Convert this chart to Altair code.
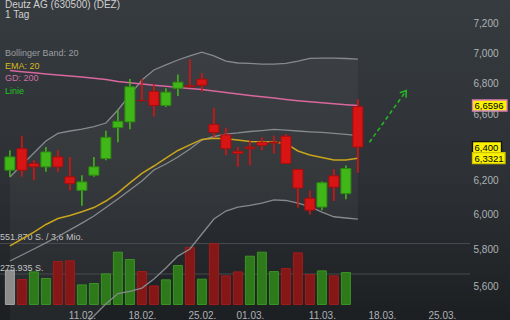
import altair as alt
import pandas as pd

# ---------------- data ----------------
day_index = list(range(30))
open_px = [6.26, 6.39, 6.30, 6.28, 6.34, 6.22, 6.14, 6.23, 6.33, 6.52,
           6.556, 6.692, 6.75, 6.66, 6.77, 6.787, 6.83, 6.54, 6.475, 6.374,
           6.40, 6.43, 6.43, 6.467, 6.264, 6.094, 6.043, 6.226, 6.121, 6.652]
high_px = [6.38, 6.47, 6.32, 6.40, 6.38, 6.34, 6.23, 6.34, 6.50, 6.63,
           6.83, 6.83, 6.80, 6.77, 6.86, 6.96, 6.87, 6.645, 6.52, 6.40,
           6.44, 6.46, 6.47, 6.48, 6.268, 6.14, 6.193, 6.266, 6.288, 6.70]
low_px = [6.22, 6.22, 6.20, 6.25, 6.25, 6.14, 6.05, 6.22, 6.32, 6.43,
          6.51, 6.69, 6.59, 6.65, 6.72, 6.775, 6.75, 6.46, 6.35, 6.28,
          6.29, 6.38, 6.36, 6.298, 6.04, 6.00, 6.025, 6.078, 6.088, 6.245]
close_px = [6.34, 6.26, 6.28, 6.37, 6.28, 6.18, 6.19, 6.28, 6.46, 6.56,
            6.78, 6.69, 6.66, 6.745, 6.81, 6.78, 6.79, 6.49, 6.39, 6.361,
            6.39, 6.41, 6.425, 6.30, 6.154, 6.025, 6.185, 6.159, 6.27, 6.40]

ema20 = [5.822, 5.861, 5.900, 5.943, 5.977, 5.994, 6.016, 6.040, 6.078, 6.125,
         6.184, 6.241, 6.285, 6.333, 6.379, 6.413, 6.447, 6.454, 6.451, 6.443,
         6.434, 6.433, 6.431, 6.422, 6.376, 6.352, 6.336, 6.321, 6.321, 6.3321]
gd200 = [6.886, 6.879, 6.871, 6.864, 6.857, 6.850, 6.843, 6.836, 6.828, 6.815,
         6.806, 6.798, 6.790, 6.783, 6.776, 6.769, 6.762, 6.752, 6.743, 6.733,
         6.724, 6.716, 6.707, 6.698, 6.690, 6.683, 6.677, 6.671, 6.665, 6.6596]
bb_upper = [6.219, 6.291, 6.364, 6.437, 6.484, 6.499, 6.511, 6.526, 6.549, 6.631,
            6.727, 6.824, 6.890, 6.923, 6.956, 6.983, 7.009, 6.983, 6.949, 6.936,
            6.933, 6.929, 6.929, 6.933, 6.949, 6.967, 6.969, 6.969, 6.966, 6.962]
bb_mid = [5.739, 5.772, 5.805, 5.839, 5.875, 5.912, 5.951, 5.991, 6.040, 6.090,
          6.142, 6.195, 6.261, 6.297, 6.339, 6.388, 6.443, 6.465, 6.480, 6.487,
          6.496, 6.502, 6.509, 6.505, 6.499, 6.494, 6.490, 6.484, 6.478, 6.470]
bb_lower = [5.259, 5.253, 5.246, 5.241, 5.266, 5.325, 5.391, 5.445, 5.508, 5.563,
            5.574, 5.592, 5.641, 5.701, 5.766, 5.805, 5.889, 5.974, 6.020, 6.043,
            6.052, 6.066, 6.084, 6.081, 6.066, 6.046, 6.014, 5.987, 5.980, 5.974]

vol_index = list(range(29))
volumes = [310000, 226000, 295000, 235000, 389000, 395000, 177000, 190000, 277000, 473000,
           407000, 298000, 168000, 223000, 353000, 515000, 229000, 550000, 259000, 295000,
           437000, 473000, 298000, 326000, 467000, 271000, 304000, 259000, 289000]
vol_trend = ["flat", "down", "up", "up", "down", "down", "up", "up", "up", "up",
             "up", "down", "down", "up", "up", "down", "up", "down", "down", "down",
             "up", "up", "up", "down", "down", "down", "up", "down", "up"]
vol_ref_values = [551870, 275935]
vol_ref_labels = ["551.870 S. / 3,6 Mio.", "275.935 S."]

x_tick_idx = [6, 11, 16, 20, 26, 31, 36]
x_tick_labels = ["11.02.", "18.02.", "25.02.", "01.03.", "11.03.", "18.03.", "25.03."]
y_ticks = [5.6, 5.8, 6.0, 6.2, 6.4, 6.6, 6.8, 7.0, 7.2]
y_tick_labels = ["5,600", "5,800", "6,000", "6,200", "6,400", "6,600", "6,800", "7,000", "7,200"]
y_ticks_covered = [6.4]

box_prices = [6.6596, 6.40, 6.3321]
box_texts = ["6,6596", "6,400", "6,3321"]

arrow_x = [29.96, 33.03]
arrow_y = [6.429, 6.755]
head_x = [32.49, 33.03, 33.01]
head_y = [6.741, 6.755, 6.710]

chart_title = "Deutz AG (630500) (DEZ)"
chart_period = "1 Tag"
legend_items = ["Bollinger Band: 20", "EMA: 20", "GD: 200", "Linie"]

# ---------------- styling ----------------
W, H = 510, 320
FONT = "Liberation Sans"
GREEN, GREEN_EDGE = "#41b619", "#2d8a10"
RED, RED_EDGE = "#d91414", "#a30f0f"
VOL_UP, VOL_UP_EDGE = "#2e7a1a", "#3a9424"
VOL_DN, VOL_DN_EDGE = "#861717", "#a01c1c"
VOL_NEUTRAL, VOL_NEUTRAL_EDGE = "#8c8c8c", "#a2a2a2"
BB_COLOR = "#868a8e"
GD_COLOR = "#d9679f"
EMA_COLOR = "#c9a51c"
AXIS_LABEL = "#aeb2b6"

x_scale = alt.Scale(domain=[-0.4085, 41.2582], nice=False, zero=False)
y_scale = alt.Scale(type="log", domain=[5.42381, 7.36706], nice=False, zero=False)
v_scale = alt.Scale(domain=[-140229, 2754812], nice=False, zero=False)

x_label_expr = ("[" + ",".join(f"'{s}'" for s in x_tick_labels) + "][indexof(["
                + ",".join(str(v) for v in x_tick_idx) + "], datum.value)]")
y_label_expr = ("indexof([" + ",".join(str(v) for v in y_ticks_covered) + "], datum.value) >= 0 ? '' : ["
                + ",".join(f"'{s}'" for s in y_tick_labels) + "][indexof(["
                + ",".join(str(v) for v in y_ticks) + "], datum.value)]")

x_axis = alt.Axis(values=x_tick_idx, labelExpr=x_label_expr, orient="bottom", offset=-15,
                  domain=False, ticks=False, grid=False, labelPadding=5, labelFontSize=10,
                  labelColor=AXIS_LABEL, labelFont=FONT, labelFlush=False, labelOverlap=False,
                  title=None, zindex=1)
y_axis = alt.Axis(values=y_ticks, labelExpr=y_label_expr, orient="right", offset=-42,
                  domain=False, ticks=False, grid=False, labelPadding=5, labelFontSize=10,
                  labelColor=AXIS_LABEL, labelFont=FONT, labelFlush=False, labelOverlap=False,
                  labelAlign="left", title=None, zindex=1)

X = alt.X("idx:Q", scale=x_scale, axis=x_axis)


def Yp(field, axis=True):
    return alt.Y(f"{field}:Q", scale=y_scale, axis=y_axis if axis else None)


price = pd.DataFrame({"idx": day_index, "open": open_px, "high": high_px, "low": low_px,
                      "close": close_px, "ema": ema20, "gd": gd200, "up": bb_upper,
                      "mid": bb_mid, "lo": bb_lower})
base = alt.Chart(price)

# background gradient
bg = alt.Chart(pd.DataFrame({"a": [0]})).mark_rect(
    color=alt.Gradient(gradient="linear",
                       stops=[alt.GradientStop(offset=0, color="#363b3f"),
                              alt.GradientStop(offset=0.55, color="#2d3135"),
                              alt.GradientStop(offset=1, color="#1c1f22")],
                       x1=0, x2=0, y1=0, y2=1)
).encode(x=alt.value(0), x2=alt.value(W), y=alt.value(0), y2=alt.value(H))

# Bollinger band fill (own scale, same mapping)
band = base.mark_area(color="#ffffff", opacity=0.04).encode(
    x=X, y=Yp("up", axis=False), y2=alt.Y2("lo:Q"))

# volume panel
vol = pd.DataFrame({"idx": vol_index, "vol": volumes, "trend": vol_trend})
vref = pd.DataFrame({"v": vol_ref_values, "label": vol_ref_labels})
vol_fill = (alt.when(alt.datum.trend == "up").then(alt.value(VOL_UP))
            .when(alt.datum.trend == "down").then(alt.value(VOL_DN))
            .otherwise(alt.value(VOL_NEUTRAL)))
vol_edge = (alt.when(alt.datum.trend == "up").then(alt.value(VOL_UP_EDGE))
            .when(alt.datum.trend == "down").then(alt.value(VOL_DN_EDGE))
            .otherwise(alt.value(VOL_NEUTRAL_EDGE)))
vol_rules = alt.Chart(vref).mark_rule(color="#474b4f", strokeWidth=1).encode(
    y=alt.Y("v:Q", scale=v_scale, axis=None), x=alt.value(0), x2=alt.value(470))
vol_bars = alt.Chart(vol).transform_calculate(zero="0").mark_bar(width=9, strokeWidth=1).encode(
    x=X, y=alt.Y("vol:Q", scale=v_scale, axis=None), y2=alt.Y2("zero:Q"),
    fill=vol_fill, stroke=vol_edge)
vol_text = alt.Chart(vref).mark_text(align="left", baseline="bottom", dy=-1, fontSize=9,
                                     font=FONT, color="#c2c2c2").encode(
    x=alt.value(0), y=alt.Y("v:Q", scale=v_scale, axis=None), text="label:N")
vol_group = alt.layer(vol_rules, vol_bars, vol_text)

# price panel
up_line = base.mark_line(color=BB_COLOR, strokeWidth=1.3).encode(x=X, y=Yp("up"))
mid_line = base.mark_line(color=BB_COLOR, strokeWidth=1.3).encode(x=X, y=Yp("mid"))
lo_line = base.mark_line(color=BB_COLOR, strokeWidth=1.3).encode(x=X, y=Yp("lo"))
gd_line = base.mark_line(color=GD_COLOR, strokeWidth=1.5).encode(x=X, y=Yp("gd"))
ema_line = base.mark_line(color=EMA_COLOR, strokeWidth=1.5).encode(x=X, y=Yp("ema"))

is_up = "datum.close >= datum.open"
wicks = base.mark_rule(strokeWidth=1.6).encode(
    x=X, y=Yp("low"), y2=alt.Y2("high:Q"),
    color=alt.condition(is_up, alt.value(GREEN), alt.value(RED)))
bodies = base.mark_bar(width=10, strokeWidth=1).encode(
    x=X, y=Yp("open"), y2=alt.Y2("close:Q"),
    fill=alt.condition(is_up, alt.value(GREEN), alt.value(RED)),
    stroke=alt.condition(is_up, alt.value(GREEN_EDGE), alt.value(RED_EDGE)))

arrow_df = pd.DataFrame({"ax": arrow_x, "ay": arrow_y, "k": list(range(len(arrow_x)))})
head_df = pd.DataFrame({"ax": head_x, "ay": head_y, "k": list(range(len(head_x)))})
arrow = alt.Chart(arrow_df).mark_line(color="#25b525", strokeWidth=1.6, strokeDash=[4, 3]).encode(
    x=alt.X("ax:Q", scale=x_scale, axis=x_axis), y=Yp("ay"), order="k:Q")
head = alt.Chart(head_df).mark_line(color="#25b525", strokeWidth=1.6).encode(
    x=alt.X("ax:Q", scale=x_scale, axis=x_axis), y=Yp("ay"), order="k:Q")

box_df = pd.DataFrame({"p": box_prices, "t": box_texts, "k": list(range(len(box_prices)))})
box_edges = ["#e07ab8", "#111111", "#cfc600"]
box_right = [507, 501.5, 505]
box_layers = []
for i in range(len(box_prices)):
    sub = alt.Chart(box_df).transform_filter(alt.datum.k == i)
    box_layers.append(sub.mark_rect(fill="#fbf200", stroke=box_edges[i], strokeWidth=1.3,
                                    yOffset=-5.5, y2Offset=5.5).encode(
        x=alt.value(472.5), x2=alt.value(box_right[i]), y=Yp("p"), y2=alt.Y2("p:Q")))
    box_layers.append(sub.mark_text(align="left", baseline="middle", fontSize=9.5, font=FONT,
                                    color="#000000", dy=0.5).encode(
        x=alt.value(474.5), y=Yp("p"), text="t:N"))

price_group = alt.layer(up_line, mid_line, lo_line, gd_line, ema_line, wicks, bodies,
                        arrow, head, *box_layers)

# header texts and legend
def label(text, y, color, size):
    return alt.Chart(pd.DataFrame({"t": [text]})).mark_text(
        align="left", baseline="alphabetic", fontSize=size, font=FONT, color=color).encode(
        x=alt.value(5), y=alt.value(y), text="t:N")

legend_colors = ["#9a9ea2", "#d6b821", "#cf6fa8", "#22c322"]
legend_y = [56, 68.5, 81, 93.5]
texts = [label(chart_title, 8, "#cfcfcf", 10), label(chart_period, 17.5, "#cfcfcf", 10)]
texts += [label(legend_items[i], legend_y[i], legend_colors[i], 9) for i in range(len(legend_items))]

chart = alt.layer(bg, band, vol_group, price_group, *texts).resolve_scale(
    y="independent"
).properties(
    width=W, height=H, autosize=alt.AutoSizeParams(type="none"), padding=0
).configure_view(stroke=None).configure(background="#2a2e32", font=FONT)

chart.save("out.html", embed_options={"renderer": "svg", "actions": False})
